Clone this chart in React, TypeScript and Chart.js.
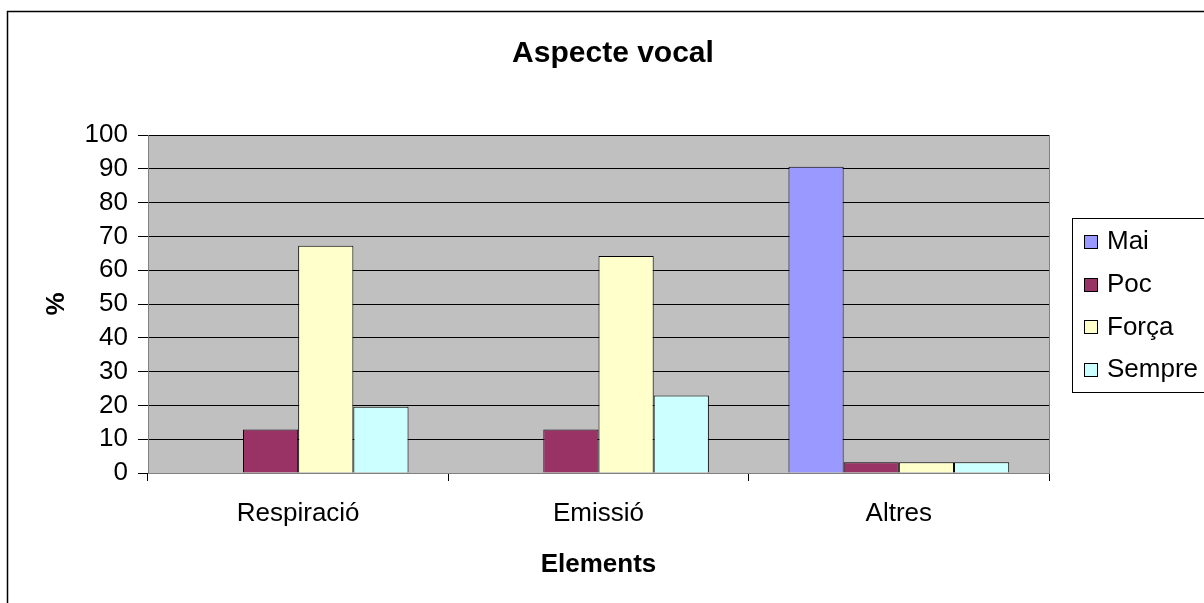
import React, { useEffect, useRef } from "react";
import { Chart, registerables } from "chart.js";

Chart.register(...registerables);

const categories = ["Respiració", "Emissió", "Altres"];
const seriesNames = ["Mai", "Poc", "Força", "Sempre"];
const maiValues = [0, 0, 90.6];
const pocValues = [12.9, 12.9, 3.2];
const forcaValues = [67.2, 64.2, 3.2];
const sempreValues = [19.6, 22.9, 3.2];
const seriesColors = ["#9999FF", "#993366", "#FFFFCC", "#CCFFFF"];
const yMin = 0;
const yMax = 100;
const yStep = 10;

const FONT = "'Liberation Sans', Arial, Helvetica, sans-serif";

const decorPlugin = {
  id: "decor",
  beforeDraw(chart: any) {
    const { ctx, chartArea, width, height } = chart;
    ctx.save();
    ctx.fillStyle = "#ffffff";
    ctx.fillRect(0, 0, width, height);
    ctx.fillStyle = "#C0C0C0";
    ctx.fillRect(chartArea.left, chartArea.top, chartArea.right - chartArea.left, chartArea.bottom - chartArea.top);
    ctx.restore();
  },
  afterDraw(chart: any) {
    const { ctx, chartArea, width, height } = chart;
    ctx.save();
    ctx.strokeStyle = "#808080";
    ctx.lineWidth = 1;
    ctx.beginPath();
    ctx.moveTo(chartArea.right + 0.5, chartArea.top);
    ctx.lineTo(chartArea.right + 0.5, chartArea.bottom);
    ctx.stroke();
    ctx.strokeStyle = "#000";
    ctx.lineWidth = 1.5;
    ctx.beginPath();
    ctx.moveTo(7.5, height + 2);
    ctx.lineTo(7.5, 11.5);
    ctx.lineTo(width + 2, 11.5);
    ctx.stroke();
    const lx = 1072.5;
    const ly = 218.5;
    ctx.lineWidth = 1;
    ctx.strokeStyle = "#000";
    ctx.fillStyle = "#fff";
    ctx.fillRect(lx, ly, 200, 174);
    ctx.strokeRect(lx, ly, 200, 174);
    ctx.font = `26px ${FONT}`;
    ctx.textBaseline = "middle";
    ctx.textAlign = "left";
    chart.data.datasets.forEach((ds: any, i: number) => {
      const cy = 242 + i * 42.7;
      ctx.fillStyle = ds.backgroundColor;
      ctx.fillRect(1084.5, Math.round(cy - 7) + 0.5, 13, 13);
      ctx.strokeStyle = "#000";
      ctx.strokeRect(1084.5, Math.round(cy - 7) + 0.5, 13, 13);
      ctx.fillStyle = "#000";
      ctx.fillText(ds.label, 1107, cy);
    });
    ctx.restore();
  },
};

export default function App() {
  const canvasRef = useRef<HTMLCanvasElement | null>(null);

  useEffect(() => {
    if (!canvasRef.current) return;
    const valueSets = [maiValues, pocValues, forcaValues, sempreValues];
    const chart = new Chart(canvasRef.current, {
      type: "bar",
      data: {
        labels: categories,
        datasets: seriesNames.map((name, i) => ({
          label: name,
          data: valueSets[i],
          backgroundColor: seriesColors[i],
          borderColor: "#000",
          borderWidth: 1,
          categoryPercentage: 0.735,
          barPercentage: 1,
        })),
      },
      options: {
        animation: false,
        responsive: true,
        maintainAspectRatio: false,
        layout: { padding: { top: 0, left: 22, right: 0, bottom: 0 } },
        plugins: {
          legend: { display: false },
          tooltip: { enabled: false },
          title: {
            display: true,
            text: "Aspecte vocal",
            color: "#000",
            font: { family: FONT, size: 30, weight: "bold" },
            padding: { top: 36, bottom: 63 },
          },
        },
        scales: {
          x: {
            afterFit: (scale: any) => {
              scale.height = 130;
            },
            grid: {
              offset: true,
              drawOnChartArea: false,
              drawTicks: true,
              tickLength: 8,
              color: "#000",
            },
            border: { color: "#808080", width: 1 },
            ticks: {
              color: "#000",
              font: { family: FONT, size: 26 },
              padding: 17,
            },
            title: {
              display: true,
              text: "Elements",
              color: "#000",
              font: { family: FONT, size: 26, weight: "bold" },
              padding: { top: 0, bottom: 23 },
            },
          },
          y: {
            min: yMin,
            max: yMax,
            afterFit: (scale: any) => {
              scale.width = 126;
            },
            grid: {
              color: "#000",
              tickLength: 10,
              drawTicks: true,
            },
            border: { color: "#808080", width: 1 },
            ticks: {
              stepSize: yStep,
              autoSkip: false,
              color: "#000",
              font: { family: FONT, size: 26 },
              padding: 10,
            },
            title: {
              display: true,
              text: "%",
              color: "#000",
              font: { family: FONT, size: 26, weight: "bold" },
              padding: { top: 19, bottom: 0 },
            },
          },
          yRight: {
            type: "linear",
            position: "right",
            display: true,
            afterFit: (scale: any) => {
              scale.width = 155;
            },
            grid: { display: false, drawTicks: false },
            border: { display: false },
            ticks: { display: false },
          },
        },
      },
      plugins: [decorPlugin],
    } as any);
    return () => chart.destroy();
  }, []);

  return (
    <div style={{ position: "fixed", left: 0, top: 0, width: 1204, height: 603, background: "#fff" }}>
      <canvas ref={canvasRef} />
    </div>
  );
}
